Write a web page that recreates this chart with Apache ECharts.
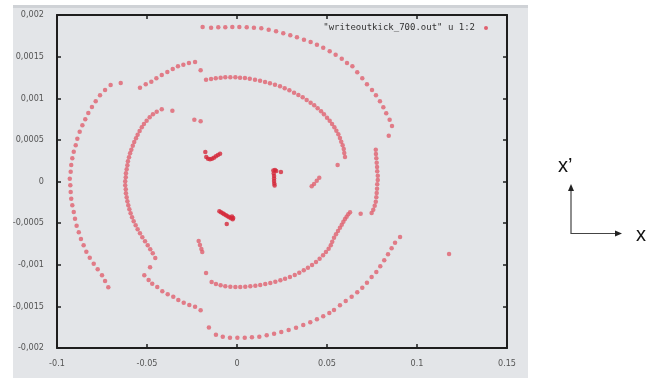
<!DOCTYPE html>
<html><head><meta charset="utf-8">
<script src="https://cdn.jsdelivr.net/npm/echarts@6/dist/echarts.min.js"></script>
<style>html,body{margin:0;padding:0;background:#fff}#c{width:661px;height:378px}</style>
</head><body><div id="c"></div>
<script>
// Data: [x, x']
const arcOuterLeft = [[-0.0646,0.001183],[-0.0702,0.001159],[-0.0733,0.001099],[-0.0761,0.001035],[-0.0785,0.000963],[-0.0806,0.000895],[-0.0826,0.000823],[-0.0843,0.000747],[-0.0859,0.000675],[-0.0874,0.000598],[-0.0887,0.000514],[-0.0896,0.000435],[-0.0907,0.000358],[-0.0915,0.000279],[-0.0921,0.000198],[-0.0924,0.000118],[-0.0929,0.000034],[-0.0926,-0.000046],[-0.0924,-0.000126],[-0.0921,-0.000207],[-0.0915,-0.000286],[-0.0907,-0.000366],[-0.0900,-0.000447],[-0.0891,-0.000531],[-0.0879,-0.000610],[-0.0867,-0.000691],[-0.0852,-0.000766],[-0.0837,-0.000843],[-0.0818,-0.000915],[-0.0796,-0.000987],[-0.0774,-0.001055],[-0.0750,-0.001127],[-0.0733,-0.001195],[-0.0715,-0.001271]];
const arcUpperMid = [[-0.0539,0.001127],[-0.0507,0.001168],[-0.0476,0.001199],[-0.0448,0.001240],[-0.0418,0.001279],[-0.0387,0.001315],[-0.0357,0.001351],[-0.0328,0.001384],[-0.0298,0.001403],[-0.0267,0.001423],[-0.0233,0.001435],[-0.0202,0.001336]];
const arcInnerLeft = [[-0.0359,0.000850],[-0.0418,0.000867],[-0.0446,0.000838],[-0.0467,0.000807],[-0.0485,0.000771],[-0.0502,0.000730],[-0.0517,0.000691],[-0.0529,0.000651],[-0.0541,0.000607],[-0.0552,0.000562],[-0.0561,0.000519],[-0.0571,0.000474],[-0.0579,0.000430],[-0.0587,0.000382],[-0.0594,0.000339],[-0.0600,0.000291],[-0.0606,0.000243],[-0.0609,0.000195],[-0.0613,0.000147],[-0.0617,0.000098],[-0.0618,0.000050],[-0.0621,0.000002],[-0.0621,-0.000046],[-0.0618,-0.000094],[-0.0617,-0.000142],[-0.0613,-0.000190],[-0.0609,-0.000238],[-0.0604,-0.000286],[-0.0598,-0.000334],[-0.0591,-0.000382],[-0.0583,-0.000430],[-0.0574,-0.000478],[-0.0563,-0.000526],[-0.0552,-0.000574],[-0.0539,-0.000622],[-0.0526,-0.000670],[-0.0511,-0.000718],[-0.0496,-0.000766],[-0.0482,-0.000814],[-0.0468,-0.000862],[-0.0454,-0.000919],[-0.0483,-0.001031]];
const arcLowerMid = [[-0.0515,-0.001127],[-0.0491,-0.001183],[-0.0471,-0.001228],[-0.0443,-0.001267],[-0.0415,-0.001319],[-0.0385,-0.001355],[-0.0354,-0.001384],[-0.0326,-0.001423],[-0.0296,-0.001456],[-0.0265,-0.001483],[-0.0233,-0.001504],[-0.0202,-0.001547]];
const arcTopOuter = [[-0.0191,0.001856],[-0.0144,0.001847],[-0.0104,0.001852],[-0.0065,0.001852],[-0.0026,0.001856],[0.0013,0.001856],[0.0054,0.001852],[0.0094,0.001847],[0.0135,0.001840],[0.0176,0.001823],[0.0217,0.001804],[0.0257,0.001780],[0.0296,0.001756],[0.0333,0.001732],[0.0372,0.001703],[0.0409,0.001676],[0.0444,0.001643],[0.0479,0.001607],[0.0515,0.001564],[0.0548,0.001523],[0.0582,0.001475],[0.0611,0.001423],[0.0641,0.001384],[0.0668,0.001312],[0.0696,0.001240],[0.0722,0.001168],[0.0750,0.001099],[0.0772,0.001035],[0.0794,0.000963],[0.0813,0.000891],[0.0829,0.000819],[0.0848,0.000742],[0.0861,0.000667],[0.0843,0.000550]];
const arcTopInner = [[-0.0172,0.001223],[-0.0144,0.001231],[-0.0118,0.001240],[-0.0091,0.001247],[-0.0065,0.001252],[-0.0037,0.001252],[-0.0009,0.001252],[0.0017,0.001247],[0.0044,0.001243],[0.0071,0.001235],[0.0100,0.001223],[0.0128,0.001211],[0.0156,0.001195],[0.0183,0.001180],[0.0211,0.001163],[0.0239,0.001144],[0.0265,0.001120],[0.0291,0.001095],[0.0317,0.001067],[0.0341,0.001039],[0.0365,0.001011],[0.0387,0.000979],[0.0409,0.000947],[0.0429,0.000915],[0.0448,0.000879],[0.0467,0.000843],[0.0483,0.000807],[0.0500,0.000766],[0.0515,0.000730],[0.0528,0.000691],[0.0541,0.000651],[0.0552,0.000610],[0.0563,0.000567],[0.0572,0.000523],[0.0579,0.000478],[0.0587,0.000435],[0.0593,0.000390],[0.0596,0.000342],[0.0600,0.000294],[0.0559,0.000198]];
const arcRightMid = [[0.0771,0.000382],[0.0772,0.000330],[0.0774,0.000279],[0.0776,0.000226],[0.0778,0.000174],[0.0779,0.000123],[0.0782,0.000070],[0.0782,0.000018],[0.0779,-0.000034],[0.0778,-0.000086],[0.0776,-0.000138],[0.0774,-0.000190],[0.0771,-0.000243],[0.0765,-0.000291],[0.0757,-0.000339],[0.0748,-0.000378],[0.0687,-0.000387]];
const arcInnerBottom = [[-0.0141,-0.001207],[-0.0117,-0.001231],[-0.0091,-0.001247],[-0.0065,-0.001259],[-0.0037,-0.001264],[-0.0009,-0.001267],[0.0018,-0.001267],[0.0046,-0.001264],[0.0074,-0.001259],[0.0102,-0.001252],[0.0129,-0.001243],[0.0157,-0.001231],[0.0185,-0.001219],[0.0213,-0.001204],[0.0241,-0.001187],[0.0267,-0.001168],[0.0294,-0.001147],[0.0321,-0.001123],[0.0346,-0.001095],[0.0371,-0.001067],[0.0394,-0.001035],[0.0417,-0.001003],[0.0439,-0.000967],[0.0459,-0.000927],[0.0478,-0.000886],[0.0494,-0.000847],[0.0509,-0.000807],[0.0521,-0.000766],[0.0529,-0.000723],[0.0539,-0.000675],[0.0550,-0.000634],[0.0561,-0.000595],[0.0572,-0.000555],[0.0582,-0.000519],[0.0591,-0.000483],[0.0600,-0.000450],[0.0609,-0.000423],[0.0618,-0.000394],[0.0628,-0.000370]];
const arcOuterBottom = [[-0.0156,-0.001754],[-0.0117,-0.001840],[-0.0079,-0.001864],[-0.0039,-0.001876],[0.0002,-0.001876],[0.0043,-0.001876],[0.0083,-0.001871],[0.0124,-0.001864],[0.0165,-0.001847],[0.0206,-0.001828],[0.0246,-0.001808],[0.0287,-0.001784],[0.0328,-0.001756],[0.0368,-0.001724],[0.0407,-0.001691],[0.0444,-0.001655],[0.0479,-0.001619],[0.0513,-0.001580],[0.0539,-0.001544],[0.0572,-0.001487],[0.0604,-0.001435],[0.0637,-0.001384],[0.0668,-0.001331],[0.0696,-0.001276],[0.0722,-0.001216],[0.0748,-0.001147],[0.0774,-0.001087],[0.0796,-0.001019],[0.0818,-0.000947],[0.0839,-0.000874],[0.0859,-0.000802],[0.0878,-0.000735],[0.0906,-0.000667]];
const strayPoints = [[-0.0172,-0.001099],[-0.0213,-0.000715],[-0.0206,-0.000763],[-0.0198,-0.000811],[-0.0193,-0.000847],[-0.0237,0.000742],[-0.0202,0.000723],[0.0415,-0.000058],[0.0428,-0.000030],[0.0443,0.000010],[0.0457,0.000046],[0.1178,-0.000871]];
const clusterA = [[-0.0176,0.000354],[-0.0171,0.000294],[-0.0161,0.000274],[-0.0150,0.000267],[-0.0139,0.000274],[-0.0128,0.000286],[-0.0117,0.000303],[-0.0106,0.000318],[-0.0094,0.000334]];
const clusterB = [[-0.0098,-0.000358],[-0.0089,-0.000370],[-0.0079,-0.000382],[-0.0071,-0.000394],[-0.0061,-0.000406],[-0.0052,-0.000418],[-0.0043,-0.000430],[-0.0033,-0.000442],[-0.0024,-0.000454],[-0.0028,-0.000420],[-0.0021,-0.000438],[-0.0057,-0.000511]];
const clusterC = [[0.0202,0.000132],[0.0211,0.000138],[0.0218,0.000126],[0.0204,0.000096],[0.0206,0.000066],[0.0206,0.000036],[0.0206,0.000006],[0.0207,-0.000024],[0.0209,-0.000048],[0.0244,0.000114]];

const xMin = -0.1, xMax = 0.15, xStep = 0.05;
const yMin = -0.002, yMax = 0.002, yStep = 0.0005;
const legendLabel = '"writeoutkick_700.out" u 1:2';

const arcs = [].concat(arcOuterLeft, arcUpperMid, arcInnerLeft, arcLowerMid, arcTopOuter, arcTopInner, arcRightMid, arcInnerBottom, arcOuterBottom, strayPoints);
const clusters = [].concat(clusterA, clusterB, clusterC);

const fmtX = v => String(+v.toFixed(4));
const fmtY = v => String(+v.toFixed(5)).replace('.', ',');
const lblFont = {color:'#555', fontSize:9, fontFamily:'DejaVu Sans Condensed, DejaVu Sans, sans-serif'};
const lineStyle = {color:'#1e1e1e', width:2};
const tickStyle = {show:true, inside:true, length:4, lineStyle:{color:'#1e1e1e', width:1.5}};

const chart = echarts.init(document.getElementById('c'), null, {renderer:'canvas'});
chart.setOption({
  animation:false,
  backgroundColor:'#ffffff',
  grid:{left:57, top:15, right:154, bottom:30, containLabel:false},
  xAxis:[
    {type:'value', min:xMin, max:xMax, interval:xStep, position:'bottom',
     axisLine:{show:true, onZero:false, lineStyle:lineStyle}, axisTick:tickStyle, splitLine:{show:false},
     axisLabel:Object.assign({formatter:fmtX, margin:11}, lblFont)},
    {type:'value', min:xMin, max:xMax, interval:xStep, position:'top',
     axisLine:{show:true, onZero:false, lineStyle:lineStyle}, axisTick:tickStyle, splitLine:{show:false},
     axisLabel:{show:false}}
  ],
  yAxis:[
    {type:'value', min:yMin, max:yMax, interval:yStep, position:'left',
     axisLine:{show:true, onZero:false, lineStyle:lineStyle}, axisTick:tickStyle, splitLine:{show:false},
     axisLabel:Object.assign({formatter:fmtY, margin:13}, lblFont)},
    {type:'value', min:yMin, max:yMax, interval:yStep, position:'right',
     axisLine:{show:true, onZero:false, lineStyle:lineStyle}, axisTick:tickStyle, splitLine:{show:false},
     axisLabel:{show:false}}
  ],
  series:[
    {type:'scatter', name:legendLabel, data:arcs, symbol:'circle', symbolSize:4.5,
     itemStyle:{color:'#e0606e'}, z:3},
    {type:'scatter', data:clusters, symbol:'circle', symbolSize:4.5,
     itemStyle:{color:'#d4283a'}, z:4}
  ],
  graphic:[
    {type:'rect', z:-10, silent:true, shape:{x:13, y:5, width:515, height:373}, style:{fill:'#e3e5e8'}},
    {type:'rect', z:-9, silent:true, shape:{x:13, y:5, width:515, height:3}, style:{fill:'#cfd2d6'}},
    {type:'text', z:5, style:{x:475, y:28, text:legendLabel, align:'right', verticalAlign:'middle',
      font:'9px "DejaVu Sans Mono", monospace', fill:'#333'}},
    {type:'circle', z:5, shape:{cx:486, cy:28, r:2}, style:{fill:'#e0606e'}},
    {type:'text', z:5, style:{x:558, y:166, text:'x\u2019', align:'left', verticalAlign:'middle',
      font:'20px "Liberation Sans", Arial, sans-serif', fill:'#111'}},
    {type:'text', z:5, style:{x:636, y:235, text:'x', align:'left', verticalAlign:'middle',
      font:'20px "Liberation Sans", Arial, sans-serif', fill:'#111'}},
    {type:'polyline', z:5, shape:{points:[[571,190],[571,233.5],[616,233.5]]}, style:{stroke:'#444', lineWidth:1.2, fill:null}},
    {type:'polygon', z:5, shape:{points:[[571,184],[568,191],[574,191]]}, style:{fill:'#222'}},
    {type:'polygon', z:5, shape:{points:[[622,233.5],[615,230.5],[615,236.5]]}, style:{fill:'#222'}}
  ]
});
</script></body></html>
